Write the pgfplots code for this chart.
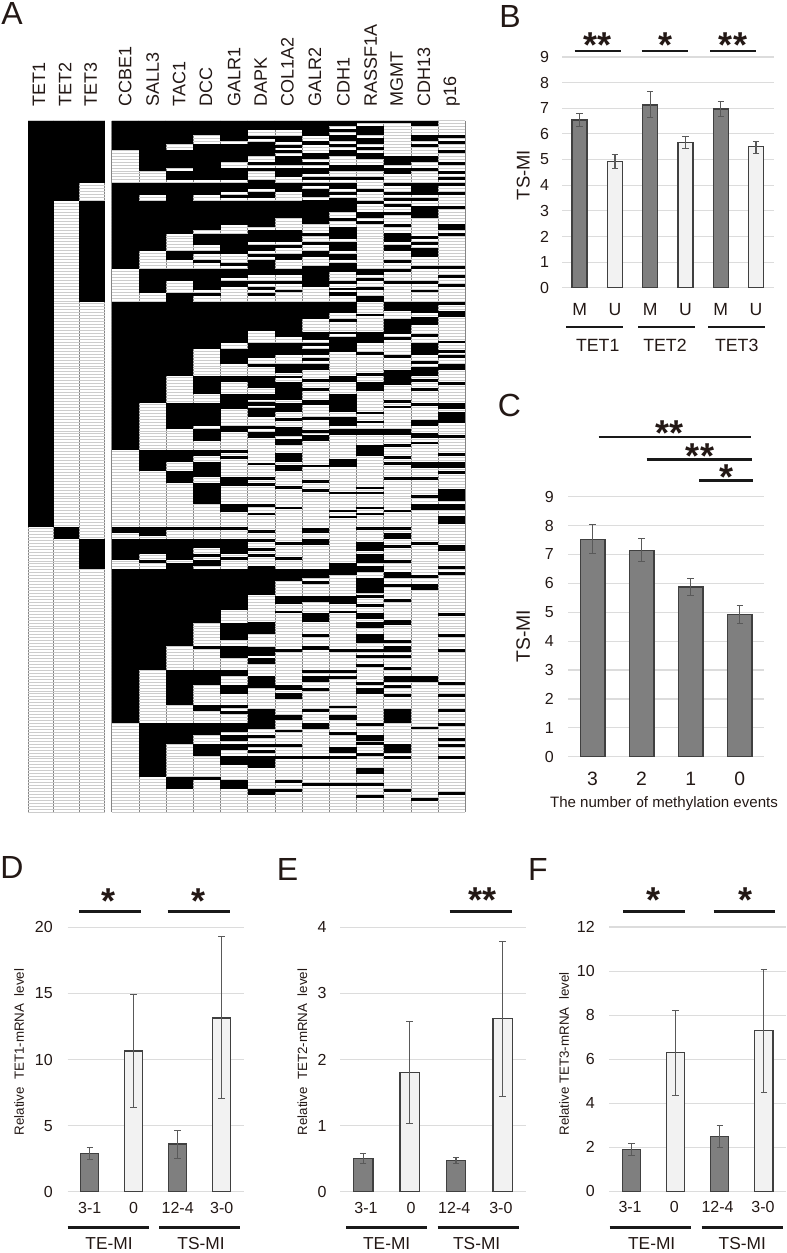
\documentclass[border=0pt]{standalone}
\usepackage{pgfplots}
\pgfplotsset{compat=1.18}
\usepackage{fontspec}
\setmainfont{Liberation Sans}
\definecolor{txt}{HTML}{231815}
\definecolor{gd}{HTML}{DCDCDC}
\definecolor{dk}{HTML}{7F7F7F}
\definecolor{lt}{HTML}{F2F2F2}
\definecolor{edge}{HTML}{404040}
\definecolor{errc}{HTML}{595959}
\newcommand\tkB[1]{\fontsize{13.2pt}{15pt}\selectfont #1}
\newcommand\tkC[1]{\fontsize{14.5pt}{15pt}\selectfont #1}
\pgfplotsset{
 heat/.style={scale only axis,height=518.5pt,y dir=reverse,ymin=362,ymax=2436,
   ytick={362,370.863,...,2437},yticklabels={},xticklabels={},
   axis line style={draw=none},tick style={draw=none},clip=false,
   xmajorgrids,ymajorgrids,
   x grid style={color=black!48,line width=.7pt},
   y grid style={color=black!20,line width=.55pt},
   unbounded coords=jump},
 blkL/.style={black,line width=19.4pt,no marks},
 blkR/.style={black,line width=20.6pt,no marks},
 table/seg/.style={x expr=#1,y index=0,row sep=\\,header=false},
 barx/.style={scale only axis,axis line style={draw=none},tick style={draw=none},
   clip=false,ymin=0,ymajorgrids,grid style={color=gd,line width=.85pt},
   ylabel style={},
   tick label style={/pgf/number format/assume math mode=true,font=\fontsize{12pt}{13pt}\selectfont,text=txt},
   yticklabel style={inner sep=0pt,anchor=east},
   xticklabel style={inner sep=0pt,anchor=base}},
 dbar/.style={ybar,bar shift=0pt,bar width=#1,fill=dk,draw=edge,line width=1pt,
   error bars/.cd,y dir=both,y explicit,error bar style={color=errc,line width=.9pt},
   error mark options={color=errc,line width=.75pt,mark size=2.4pt,rotate=90}},
 lbar/.style={ybar,bar shift=0pt,bar width=#1,fill=lt,draw=edge,line width=1pt,
   error bars/.cd,y dir=both,y explicit,error bar style={color=errc,line width=.9pt},
   error mark options={color=errc,line width=.75pt,mark size=2.4pt,rotate=90}},
 table/tb/.style={x=x,y=y,y error plus=p,y error minus=m,row sep=\\}
}
\tikzset{
 head/.style={rotate=90,anchor=west,inner sep=0pt,font=\fontsize{13.5pt}{15pt}\selectfont,text=txt},
 letter/.style={inner sep=0pt,font=\fontsize{24pt}{26pt}\selectfont,text=txt},
 sig/.style={line width=1.8pt,color=black!90},
 st/.style={anchor=base,inner sep=0pt,yshift=-14pt,font=\fontsize{27pt}{30pt}\selectfont\bfseries,text=txt},
 tl/.style={inner sep=0pt,text=txt,font=\fontsize{#1pt}{15pt}\selectfont}
}
\begin{document}
\begin{tikzpicture}[x=0.75pt,y=-0.75pt]
\path[use as bounding box] (0,0) rectangle (786,1253);
\coordinate (pL) at (28.3,812);
\coordinate (pR) at (111.7,812);
\coordinate (pB) at (562,287.7);
\coordinate (pC) at (568,756.7);
\coordinate (pD) at (67.7,1191.7);
\coordinate (pE) at (340,1191.7);
\coordinate (pF) at (609.3,1191.3);
% ---------- A
\begin{axis}[heat,at={(pL)},anchor=south west,width=57.3pt,xmin=28.3,xmax=104.7,
  xtick={28.3,53.7,79.3,104.7}]
\addplot[blkL] table[seg=41] {362\\1581\\};
\addplot[blkL] table[seg=66.5] {362\\602\\nan\\1582\\1618\\};
\addplot[blkL] table[seg=92] {362\\548\\nan\\602\\905\\nan\\1618\\1707\\};
\end{axis}
\begin{axis}[heat,at={(pR)},anchor=south west,width=265.2pt,xmin=111.7,xmax=465.3,
  xtick={111.7,139,166,193.3,220.3,247.7,275,302.3,329.3,356.7,383.7,411,438,465.3}]
% CCBE1
\addplot[blkR] table[seg=125.3] {362\\450\\nan\\548\\807\\nan\\905\\1351\\nan\\1582\\1600\\nan\\1618\\1680\\nan\\1707\\2170\\};
% SALL3
\addplot[blkR] table[seg=152.5] {362\\513\\nan\\548\\585\\nan\\602\\754\\nan\\807\\878\\nan\\905\\1208\\nan\\1351\\1413\\nan\\1582\\1608\\nan\\1618\\1662\\nan\\1680\\1688\\nan\\1707\\2010\\nan\\2170\\2330\\};
% TAC1
\addplot[blkR] table[seg=179.7] {362\\433\\nan\\451\\504\\nan\\513\\540\\nan\\548\\701\\nan\\754\\780\\nan\\807\\843\\nan\\878\\1128\\nan\\1208\\1288\\nan\\1351\\1387\\nan\\1413\\1449\\nan\\1582\\1590\\nan\\1618\\1680\\nan\\1688\\1938\\nan\\2010\\2116\\nan\\2170\\2232\\nan\\2330\\2366\\};
% DCC
\addplot[blkR] table[seg=206.8] {362\\406\\nan\\433\\540\\nan\\548\\585\\nan\\602\\691\\nan\\701\\736\\nan\\754\\763\\nan\\780\\789\\nan\\807\\870\\nan\\878\\887\\nan\\905\\1048\\nan\\1128\\1182\\nan\\1208\\1279\\nan\\1288\\1324\\nan\\1351\\1368\\nan\\1387\\1431\\nan\\1449\\1511\\nan\\1582\\1590\\nan\\1618\\1645\\nan\\1662\\1671\\nan\\1680\\1698\\nan\\1707\\1868\\nan\\1938\\1947\\nan\\2010\\2054\\nan\\2116\\2134\\nan\\2170\\2206\\nan\\2232\\2268\\nan\\2330\\2339\\};
% GALR1
\addplot[blkR] table[seg=234] {362\\424\\nan\\433\\487\\nan\\504\\540\\nan\\548\\576\\nan\\585\\593\\nan\\602\\674\\nan\\701\\763\\nan\\789\\798\\nan\\807\\834\\nan\\843\\860\\nan\\905\\1030\\nan\\1047\\1092\\nan\\1128\\1146\\nan\\1182\\1226\\nan\\1279\\1297\\nan\\1351\\1359\\nan\\1368\\1377\\nan\\1431\\1457\\nan\\1511\\1537\\nan\\1582\\1590\\nan\\1618\\1662\\nan\\1671\\1680\\nan\\1707\\1831\\nan\\1868\\1921\\nan\\1938\\1974\\nan\\2010\\2028\\nan\\2054\\2081\\nan\\2116\\2125\\nan\\2134\\2143\\nan\\2170\\2197\\nan\\2206\\2224\\nan\\2232\\2250\\nan\\2268\\2295\\nan\\2339\\2366\\};
% DAPK
\addplot[blkR] table[seg=261.3] {362\\389\\nan\\407\\416\\nan\\425\\469\\nan\\487\\496\\nan\\505\\514\\nan\\540\\567\\nan\\576\\594\\nan\\602\\682\\nan\\691\\727\\nan\\736\\754\\nan\\763\\772\\nan\\781\\825\\nan\\843\\852\\nan\\861\\870\\nan\\878\\887\\nan\\905\\993\\nan\\1030\\1073\\nan\\1091\\1100\\nan\\1127\\1163\\nan\\1182\\1199\\nan\\1207\\1217\\nan\\1225\\1252\\nan\\1279\\1288\\nan\\1297\\1315\\nan\\1388\\1395\\nan\\1432\\1440\\nan\\1450\\1458\\nan\\1512\\1520\\nan\\1538\\1546\\nan\\1591\\1599\\nan\\1618\\1626\\nan\\1644\\1652\\nan\\1662\\1670\\nan\\1699\\1786\\nan\\1867\\1903\\nan\\1940\\1967\\nan\\1975\\1993\\nan\\2029\\2065\\nan\\2127\\2188\\nan\\2206\\2215\\nan\\2233\\2242\\nan\\2251\\2260\\nan\\2269\\2304\\nan\\2366\\2384\\};
% COL1A2
\addplot[blkR] table[seg=288.5] {362\\389\\nan\\407\\425\\nan\\434\\443\\nan\\451\\460\\nan\\469\\496\\nan\\504\\532\\nan\\549\\575\\nan\\602\\655\\nan\\691\\727\\nan\\736\\744\\nan\\762\\781\\nan\\807\\824\\nan\\843\\852\\nan\\870\\877\\nan\\905\\1012\\nan\\1030\\1065\\nan\\1091\\1118\\nan\\1127\\1135\\nan\\1145\\1199\\nan\\1208\\1235\\nan\\1253\\1262\\nan\\1280\\1307\\nan\\1316\\1334\\nan\\1360\\1386\\nan\\1396\\1413\\nan\\1458\\1466\\nan\\1520\\1528\\nan\\1627\\1635\\nan\\1671\\1680\\nan\\1708\\1742\\nan\\1787\\1813\\nan\\1832\\1840\\nan\\1946\\1955\\nan\\2056\\2070\\nan\\2080\\2097\\nan\\2145\\2161\\nan\\2189\\2197\\nan\\2233\\2242\\nan\\2269\\2277\\nan\\2340\\2348\\nan\\2367\\2375\\};
% GALR2
\addplot[blkR] table[seg=315.7] {362\\407\\nan\\424\\434\\nan\\459\\477\\nan\\487\\495\\nan\\504\\522\\nan\\531\\540\\nan\\549\\558\\nan\\566\\592\\nan\\601\\672\\nan\\700\\709\\nan\\727\\736\\nan\\754\\772\\nan\\799\\861\\nan\\905\\958\\nan\\995\\1021\\nan\\1030\\1039\\nan\\1048\\1065\\nan\\1074\\1083\\nan\\1092\\1110\\nan\\1137\\1146\\nan\\1163\\1172\\nan\\1199\\1216\\nan\\1252\\1260\\nan\\1289\\1298\\nan\\1306\\1323\\nan\\1394\\1402\\nan\\1440\\1449\\nan\\1467\\1475\\nan\\1583\\1600\\nan\\1618\\1636\\nan\\1708\\1735\\nan\\1743\\1752\\nan\\1787\\1805\\nan\\1840\\1867\\nan\\1903\\1912\\nan\\1938\\1949\\nan\\2010\\2020\\nan\\2027\\2046\\nan\\2064\\2072\\nan\\2126\\2135\\nan\\2170\\2188\\nan\\2269\\2277\\nan\\2348\\2357\\};
% CDH1
\addplot[blkR] table[seg=342.8] {362\\379\\nan\\388\\397\\nan\\406\\424\\nan\\433\\442\\nan\\451\\469\\nan\\496\\513\\nan\\531\\540\\nan\\548\\566\\nan\\575\\584\\nan\\593\\637\\nan\\655\\664\\nan\\682\\718\\nan\\727\\754\\nan\\762\\780\\nan\\789\\815\\nan\\843\\852\\nan\\863\\869\\nan\\877\\887\\nan\\905\\940\\nan\\958\\967\\nan\\995\\1003\\nan\\1012\\1057\\nan\\1127\\1145\\nan\\1181\\1235\\nan\\1252\\1278\\nan\\1287\\1305\\nan\\1378\\1402\\nan\\1475\\1483\\nan\\1530\\1537\\nan\\1547\\1555\\nan\\1690\\1725\\nan\\1787\\1813\\nan\\1832\\1840\\nan\\1947\\1955\\nan\\2010\\2020\\nan\\2029\\2037\\nan\\2117\\2125\\nan\\2144\\2161\\nan\\2197\\2206\\nan\\2242\\2260\\nan\\2269\\2277\\nan\\2348\\2357\\};
% RASSF1A
\addplot[blkR] table[seg=370.2] {362\\370\\nan\\379\\406\\nan\\415\\433\\nan\\442\\450\\nan\\459\\478\\nan\\495\\513\\nan\\531\\540\\nan\\566\\575\\nan\\602\\611\\nan\\637\\655\\nan\\664\\673\\nan\\806\\824\\nan\\833\\842\\nan\\860\\869\\nan\\887\\905\\nan\\941\\949\\nan\\995\\1030\\nan\\1057\\1066\\nan\\1119\\1128\\nan\\1146\\1172\\nan\\1235\\1243\\nan\\1262\\1270\\nan\\1287\\1305\\nan\\1334\\1368\\nan\\1460\\1467\\nan\\1475\\1483\\nan\\1520\\1528\\nan\\1538\\1546\\nan\\1582\\1591\\nan\\1627\\1653\\nan\\1662\\1689\\nan\\1698\\1716\\nan\\1734\\1778\\nan\\1786\\1795\\nan\\1813\\1822\\nan\\1840\\1858\\nan\\1867\\1885\\nan\\1903\\1929\\nan\\1946\\1955\\nan\\1964\\1973\\nan\\1992\\2001\\nan\\2046\\2055\\nan\\2064\\2081\\nan\\2170\\2179\\nan\\2206\\2224\\nan\\2226\\2234\\nan\\2260\\2268\\nan\\2304\\2321\\nan\\2348\\2357\\nan\\2384\\2393\\};
% MGMT
\addplot[blkR] table[seg=397.3] {362\\370\\nan\\469\\495\\nan\\504\\522\\nan\\549\\558\\nan\\576\\585\\nan\\594\\602\\nan\\611\\620\\nan\\637\\646\\nan\\673\\682\\nan\\700\\727\\nan\\736\\754\\nan\\781\\789\\nan\\807\\816\\nan\\843\\852\\nan\\905\\932\\nan\\958\\1003\\nan\\1012\\1020\\nan\\1065\\1074\\nan\\1110\\1155\\nan\\1200\\1208\\nan\\1217\\1225\\nan\\1288\\1306\\nan\\1333\\1342\\nan\\1368\\1376\\nan\\1386\\1394\\nan\\1431\\1440\\nan\\1530\\1537\\nan\\1582\\1591\\nan\\1600\\1618\\nan\\1636\\1645\\nan\\1680\\1689\\nan\\1716\\1734\\nan\\1752\\1761\\nan\\1796\\1805\\nan\\1860\\1876\\nan\\1920\\1929\\nan\\1938\\1956\\nan\\1964\\1973\\nan\\2001\\2009\\nan\\2027\\2045\\nan\\2055\\2064\\nan\\2081\\2090\\nan\\2126\\2170\\nan\\2233\\2260\\nan\\2269\\2277\\nan\\2366\\2375\\};
% CDH13
\addplot[blkR] table[seg=424.5] {362\\379\\nan\\406\\424\\nan\\433\\442\\nan\\469\\487\\nan\\504\\512\\nan\\549\\584\\nan\\593\\602\\nan\\619\\655\\nan\\708\\717\\nan\\726\\735\\nan\\744\\771\\nan\\798\\807\\nan\\843\\852\\nan\\870\\877\\nan\\905\\940\\nan\\951\\976\\nan\\1003\\1012\\nan\\1030\\1065\\nan\\1083\\1092\\nan\\1101\\1127\\nan\\1136\\1145\\nan\\1163\\1172\\nan\\1209\\1218\\nan\\1261\\1279\\nan\\1298\\1315\\nan\\1325\\1333\\nan\\1386\\1404\\nan\\1431\\1440\\nan\\1485\\1493\\nan\\1512\\1529\\nan\\1627\\1636\\nan\\1725\\1734\\nan\\1751\\1769\\nan\\2028\\2046\\nan\\2180\\2188\\nan\\2393\\2402\\};
% p16
\addplot[blkR] table[seg=451.7] {406\\415\\nan\\424\\433\\nan\\451\\460\\nan\\486\\495\\nan\\513\\522\\nan\\531\\540\\nan\\549\\558\\nan\\575\\584\\nan\\619\\628\\nan\\673\\691\\nan\\700\\709\\nan\\799\\808\\nan\\825\\834\\nan\\852\\861\\nan\\905\\914\\nan\\932\\950\\nan\\1022\\1030\\nan\\1049\\1058\\nan\\1066\\1074\\nan\\1092\\1110\\nan\\1146\\1154\\nan\\1209\\1227\\nan\\1236\\1269\\nan\\1305\\1314\\nan\\1360\\1368\\nan\\1386\\1404\\nan\\1413\\1422\\nan\\1467\\1502\\nan\\1512\\1529\\nan\\1547\\1573\\nan\\1636\\1653\\nan\\1698\\1707\\nan\\1716\\1725\\nan\\1840\\1849\\nan\\1903\\1912\\nan\\1948\\1956\\nan\\2046\\2055\\nan\\2082\\2090\\nan\\2126\\2135\\nan\\2170\\2179\\nan\\2215\\2224\\nan\\2233\\2242\\nan\\2269\\2277\\nan\\2375\\2384\\};
\end{axis}
\foreach \x/\t in {39/TET1,65/TET2,90.7/TET3,125.3/CCBE1,152.7/SALL3,179.3/TAC1,206/DCC,234.3/GALR1,260.7/DAPK,287.3/COL1A2,315/GALR2,343.3/CDH1,370.7/RASSF1A,396.7/MGMT,424/CDH13,451.7/p16}
  \node[head] at (\x,106.5) {\t};
\node[letter] at (12,13) {A};
% ---------- B
\begin{axis}[barx,at={(pB)},anchor=south west,width=158.8pt,height=173pt,
  xmin=-.5,xmax=5.5,ymax=9,ytick={0,1,...,9},xtick={0,...,5},
  xticklabels={\tkB{M},\tkB{U},\tkB{M},\tkB{U},\tkB{M},\tkB{U}},
  yticklabel style={xshift=-9.5pt},
  xticklabel style={yshift=-21pt}]
\addplot[dbar=11.25pt] table[tb] {x y p m\\0 6.55 .25 .25\\2 7.13 .52 .48\\4 6.97 .3 .3\\};
\addplot[lbar=11.25pt] table[tb] {x y p m\\1 4.93 .27 .26\\3 5.67 .23 .22\\5 5.5 .22 .25\\};
\end{axis}
\node[tl=13.8,rotate=90] at (523.3,175) {TS-MI};
\draw[sig] (574.7,51)--(621,51) (641.7,51)--(688,51) (710,51)--(756.3,51);
\draw[sig] (566.3,326.7)--(623,326.7) (638,326.7)--(694.7,326.7) (708.3,326.7)--(765,326.7);
\node[st] at (597.7,39) {**}; \node[st] at (665,39) {*}; \node[st] at (733,39) {**};
\node[tl=13.3] at (597.7,345) {TET1}; \node[tl=13.3] at (665,345) {TET2}; \node[tl=13.3] at (736.7,345) {TET3};
\node[letter] at (510,16) {B};
% ---------- C
\begin{axis}[barx,at={(pC)},anchor=south west,width=147.2pt,height=195pt,
  xmin=-.5,xmax=3.5,ymax=9,ytick={0,1,...,9},xtick={0,...,3},
  xticklabels={\tkC{3},\tkC{2},\tkC{1},\tkC{0}},
  yticklabel style={xshift=-10.5pt},
  xticklabel style={yshift=-21.7pt}]
\addplot[dbar=18.5pt] table[tb] {x y p m\\0 7.53 .52 .51\\1 7.14 .43 .38\\2 5.87 .3 .3\\3 4.93 .29 .33\\};
\end{axis}
\node[tl=14.5,rotate=90] at (523.3,636) {TS-MI};
\node[tl=11.3] at (664,804) {The number of methylation events};
\draw[sig] (598.7,436.7)--(750.7,436.7) (646.7,459.3)--(752,459.3) (699,480.3)--(753,480.3);
\node[st] at (669.3,426.7) {**}; \node[st] at (700,450) {**}; \node[st] at (726.7,470.7) {*};
\node[letter] at (509.3,405) {C};
% ---------- D
\begin{axis}[barx,at={(pD)},anchor=south west,width=132pt,height=198.3pt,
  xmin=-.5,xmax=3.5,ymax=20,ytick={0,5,...,20},xtick={0,...,3},
  xticklabels={3-1,0,12-4,3-0},
  yticklabel style={xshift=-11pt},xticklabel style={yshift=-16pt}]
\addplot[dbar=13.5pt] table[tb] {x y p m\\0 2.9 .45 .45\\2 3.6 1 1.1\\};
\addplot[lbar=13.5pt] table[tb] {x y p m\\1 10.65 4.25 4.3\\3 13.15 6.15 6.1\\};
\end{axis}
\node[tl=10,rotate=90] at (19,1052) {Relative\ \ TET1-mRNA\ \ level};
\draw[sig] (79.3,911.3)--(141.3,911.3) (167.7,911.3)--(229.7,911.3);
\draw[sig] (67.7,1227.3)--(148.7,1227.3) (159.3,1227.3)--(240.3,1227.3);
\node[st] at (108.3,895) {*}; \node[st] at (199,895) {*};
\node[tl=13] at (109,1244) {TE-MI}; \node[tl=13] at (201,1244) {TS-MI};
\node[letter] at (12,867) {D};
% ---------- E
\begin{axis}[barx,at={(pE)},anchor=south west,width=139.3pt,height=198.3pt,
  xmin=-.5,xmax=3.5,ymax=4,ytick={0,1,...,4},xtick={.06,1.03,1.96,2.965},
  xticklabels={3-1,0,12-4,3-0},
  yticklabel style={xshift=-10pt},xticklabel style={yshift=-16pt}]
\addplot[dbar=14.5pt] table[tb] {x y p m\\0 .5 .08 .08\\2 .47 .05 .05\\};
\addplot[lbar=14.5pt] table[tb] {x y p m\\1 1.8 .77 .77\\3 2.62 1.16 1.18\\};
\end{axis}
\node[tl=10,rotate=90] at (302.3,1052) {Relative\ \ TET2-mRNA\ \ level};
\draw[sig] (449.7,911.3)--(511.7,911.3);
\draw[sig] (346,1227.3)--(427,1227.3) (437.7,1227.3)--(518.7,1227.3);
\node[st] at (482.3,894) {**};
\node[tl=13] at (386.7,1244) {TE-MI}; \node[tl=13] at (476.7,1244) {TS-MI};
\node[letter] at (287.5,869) {E};
% ---------- F
\begin{axis}[barx,at={(pF)},anchor=south west,width=132.5pt,height=198.2pt,
  xmin=-.5,xmax=3.5,ymax=12,ytick={0,2,...,12},xtick={-.03,.97,1.95,2.98},
  xticklabels={3-1,0,12-4,3-0},
  yticklabel style={xshift=-10.7pt},xticklabel style={yshift=-16pt}]
\addplot[dbar=13.6pt] table[tb] {x y p m\\0 1.9 .27 .27\\2 2.5 .5 .53\\};
\addplot[lbar=13.6pt] table[tb] {x y p m\\1 6.3 1.9 1.93\\3 7.3 2.75 2.8\\};
\end{axis}
\node[tl=10,rotate=90] at (564,1054) {Relative TET3-mRNA\ \ level};
\draw[sig] (623,911.3)--(685,911.3) (713.7,911.3)--(775.3,911.3);
\draw[sig] (609.7,1227.3)--(690.7,1227.3) (701.7,1227.3)--(782.7,1227.3);
\node[st] at (653.3,894) {*}; \node[st] at (745,894) {*};
\node[tl=13] at (651.7,1244) {TE-MI}; \node[tl=13] at (742.3,1244) {TS-MI};
\node[letter] at (538,869) {F};
\end{tikzpicture}
\end{document}
